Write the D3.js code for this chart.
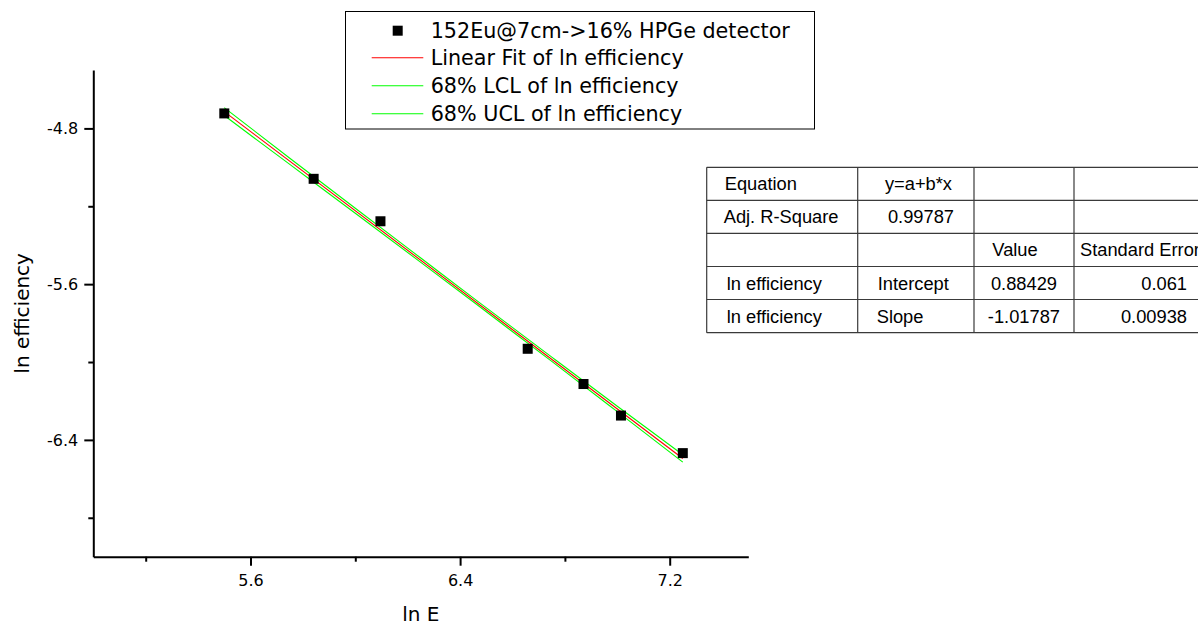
<!DOCTYPE html>
<html>
<head>
<meta charset="utf-8">
<script src="https://cdn.jsdelivr.net/npm/d3@7"></script>
<style>
  html, body { margin: 0; padding: 0; background: #fff; }
  svg { display: block; }
</style>
</head>
<body>
<svg id="chart" width="1198" height="625"></svg>
<script>
// 152Eu source at 7 cm, 16% HPGe detector: ln(efficiency) against ln(E)
const lnE = [5.500, 5.841, 6.096, 6.658, 6.871, 7.014, 7.250];
const lnEff = [-4.723, -5.059, -5.277, -5.932, -6.113, -6.275, -6.468];

// Linear fit results, as listed in the results table
const fitEquation = "y=a+b*x";
const adjRSquare = "0.99787";
const interceptText = "0.88429";
const interceptErrText = "0.061";
const slopeText = "-1.01787";
const slopeErrText = "0.00938";

// 68% confidence limits of the fit
const bandX = [5.50, 5.75, 6.00, 6.25, 6.46, 6.75, 7.00, 7.25];
const lclValues = [-4.734, -4.985, -5.236, -5.488, -5.701, -5.997, -6.255, -6.514];
const uclValues = [-4.694, -4.953, -5.210, -5.466, -5.681, -5.975, -6.227, -6.476];

// Axis ticks
const xMajorTicks = [5.6, 6.4, 7.2];
const xMinorTicks = [5.2, 6.0, 6.8];
const yMajorTicks = [-4.8, -5.6, -6.4];
const yMinorTicks = [-5.2, -6.0, -6.8];

const legendLabels = [
  "152Eu@7cm->16% HPGe detector",
  "Linear Fit of ln efficiency",
  "68% LCL of ln efficiency",
  "68% UCL of ln efficiency"
];

const tableRows = [
  ["Equation", fitEquation, "", ""],
  ["Adj. R-Square", adjRSquare, "", ""],
  ["", "", "Value", "Standard Error"],
  ["ln efficiency", "Intercept", interceptText, interceptErrText],
  ["ln efficiency", "Slope", slopeText, slopeErrText]
];

const svg = d3.select("#chart");
svg.append("rect").attr("width", 1198).attr("height", 625).attr("fill", "#fff");

const plot = { left: 93.3, right: 748.3, top: 70, bottom: 556.7 };
const x = d3.scaleLinear().domain([5.0, 7.5]).range([plot.left, plot.right]);
const y = d3.scaleLinear().domain([-7.0, -4.5]).range([plot.bottom, plot.top]);

const axisFont = "'DejaVu Sans', sans-serif";
const fmt1 = d => d.toFixed(1);

// Axes: major ticks with labels, minor ticks without
function styleAxis(g) {
  g.select(".domain").attr("stroke", "#000").attr("stroke-width", 2);
  g.selectAll(".tick line").attr("stroke", "#000").attr("stroke-width", 2);
  g.selectAll(".tick text").attr("fill", "#000")
    .style("font-family", axisFont).style("font-size", "16px");
}

const xAxisG = svg.append("g").attr("transform", `translate(0,${plot.bottom})`)
  .call(d3.axisBottom(x).tickValues(xMajorTicks).tickSize(9).tickSizeOuter(0)
    .tickPadding(9).tickFormat(fmt1));
styleAxis(xAxisG);
const xMinorG = svg.append("g").attr("transform", `translate(0,${plot.bottom})`)
  .call(d3.axisBottom(x).tickValues(xMinorTicks).tickSize(5).tickFormat(""));
xMinorG.select(".domain").remove();
styleAxis(xMinorG);

const yAxisG = svg.append("g").attr("transform", `translate(${plot.left},0)`)
  .call(d3.axisLeft(y).tickValues(yMajorTicks).tickSize(9).tickSizeOuter(0)
    .tickPadding(6).tickFormat(fmt1));
styleAxis(yAxisG);
const yMinorG = svg.append("g").attr("transform", `translate(${plot.left},0)`)
  .call(d3.axisLeft(y).tickValues(yMinorTicks).tickSize(5).tickFormat(""));
yMinorG.select(".domain").remove();
styleAxis(yMinorG);

// Axis titles
svg.append("text")
  .attr("x", (plot.left + plot.right) / 2).attr("y", 621)
  .attr("text-anchor", "middle")
  .style("font-family", axisFont).style("font-size", "20px")
  .text("ln E");
svg.append("text")
  .attr("transform", `translate(28.5,${(plot.top + plot.bottom) / 2}) rotate(-90)`)
  .attr("text-anchor", "middle")
  .style("font-family", axisFont).style("font-size", "20px")
  .text("ln efficiency");

// Fit line and confidence limits
const a = +interceptText, b = +slopeText;
const fitX = d3.extent(lnE);
const line = d3.line().x(d => x(d[0])).y(d => y(d[1]));
const bandLine = d3.line().x(d => x(d[0])).y(d => y(d[1])).curve(d3.curveMonotoneX);

[lclValues, uclValues].forEach(vals => {
  svg.append("path")
    .datum(bandX.map((v, i) => [v, vals[i]]))
    .attr("d", bandLine)
    .attr("fill", "none").attr("stroke", "#00ff00").attr("stroke-width", 1.1);
});
svg.append("path")
  .datum(fitX.map(v => [v, a + b * v]))
  .attr("d", line)
  .attr("fill", "none").attr("stroke", "#ff0000").attr("stroke-width", 1.1);

// Data points
const sq = 10;
svg.append("g").selectAll("rect")
  .data(lnE.map((v, i) => [v, lnEff[i]]))
  .join("rect")
  .attr("x", d => x(d[0]) - sq / 2).attr("y", d => y(d[1]) - sq / 2)
  .attr("width", sq).attr("height", sq).attr("fill", "#000");

// Legend
const legend = svg.append("g");
legend.append("rect")
  .attr("x", 345.5).attr("y", 11.5).attr("width", 469).attr("height", 117.5)
  .attr("fill", "#fff").attr("stroke", "#000").attr("stroke-width", 1);
const rowY = [30.7, 57.8, 85.8, 113.8];
const legendColors = [null, "#ff0000", "#00ff00", "#00ff00"];
legendLabels.forEach((lab, i) => {
  if (i === 0) {
    legend.append("rect").attr("x", 397.7 - 5).attr("y", rowY[i] - 5)
      .attr("width", 10).attr("height", 10).attr("fill", "#000");
  } else {
    legend.append("line").attr("x1", 371.7).attr("x2", 423.3)
      .attr("y1", rowY[i]).attr("y2", rowY[i])
      .attr("stroke", legendColors[i]).attr("stroke-width", 1.1);
  }
  legend.append("text").attr("x", 430.7).attr("y", rowY[i] + 7.4)
    .style("font-family", axisFont).style("font-size", "20.7px")
    .text(lab);
});

// Results table
const tableFont = "'Liberation Sans', Arial, sans-serif";
const colX = [706.7, 857.7, 974, 1074, 1236];
const rowTop = [167.3, 200.3, 233.3, 266.5, 299.5, 332.7];
// per-cell anchor: [anchor, offset from the cell's left (start) or right (end) edge]
const cellAlign = [
  [["start", 18], ["end", 22], ["middle", 0], ["middle", 0]],
  [["start", 17], ["end", 20], ["middle", 0], ["middle", 0]],
  [["start", 18], ["start", 19], ["middle", -9], ["start", 6]],
  [["start", 20], ["start", 20], ["end", 17], ["end", 49]],
  [["start", 20], ["start", 19], ["end", 14], ["end", 49]]
];
const table = svg.append("g");
const gridColor = "#3a3a3a";
rowTop.forEach(ry => {
  table.append("line").attr("x1", colX[0]).attr("x2", colX[4])
    .attr("y1", ry).attr("y2", ry).attr("stroke", gridColor).attr("stroke-width", 1.2);
});
colX.forEach(cx => {
  table.append("line").attr("x1", cx).attr("x2", cx)
    .attr("y1", rowTop[0]).attr("y2", rowTop[rowTop.length - 1])
    .attr("stroke", gridColor).attr("stroke-width", 1.2);
});
tableRows.forEach((row, r) => {
  row.forEach((txt, c) => {
    if (!txt) return;
    const [anchor, off] = cellAlign[r][c];
    let tx;
    if (anchor === "start") tx = colX[c] + off;
    else if (anchor === "end") tx = colX[c + 1] - off;
    else tx = (colX[c] + colX[c + 1]) / 2 + off;
    table.append("text")
      .attr("x", tx).attr("y", (rowTop[r] + rowTop[r + 1]) / 2 + 6.5)
      .attr("text-anchor", anchor)
      .style("font-family", tableFont).style("font-size", "18.3px").attr("fill", "#000")
      .text(txt);
  });
});
</script>
</body>
</html>
